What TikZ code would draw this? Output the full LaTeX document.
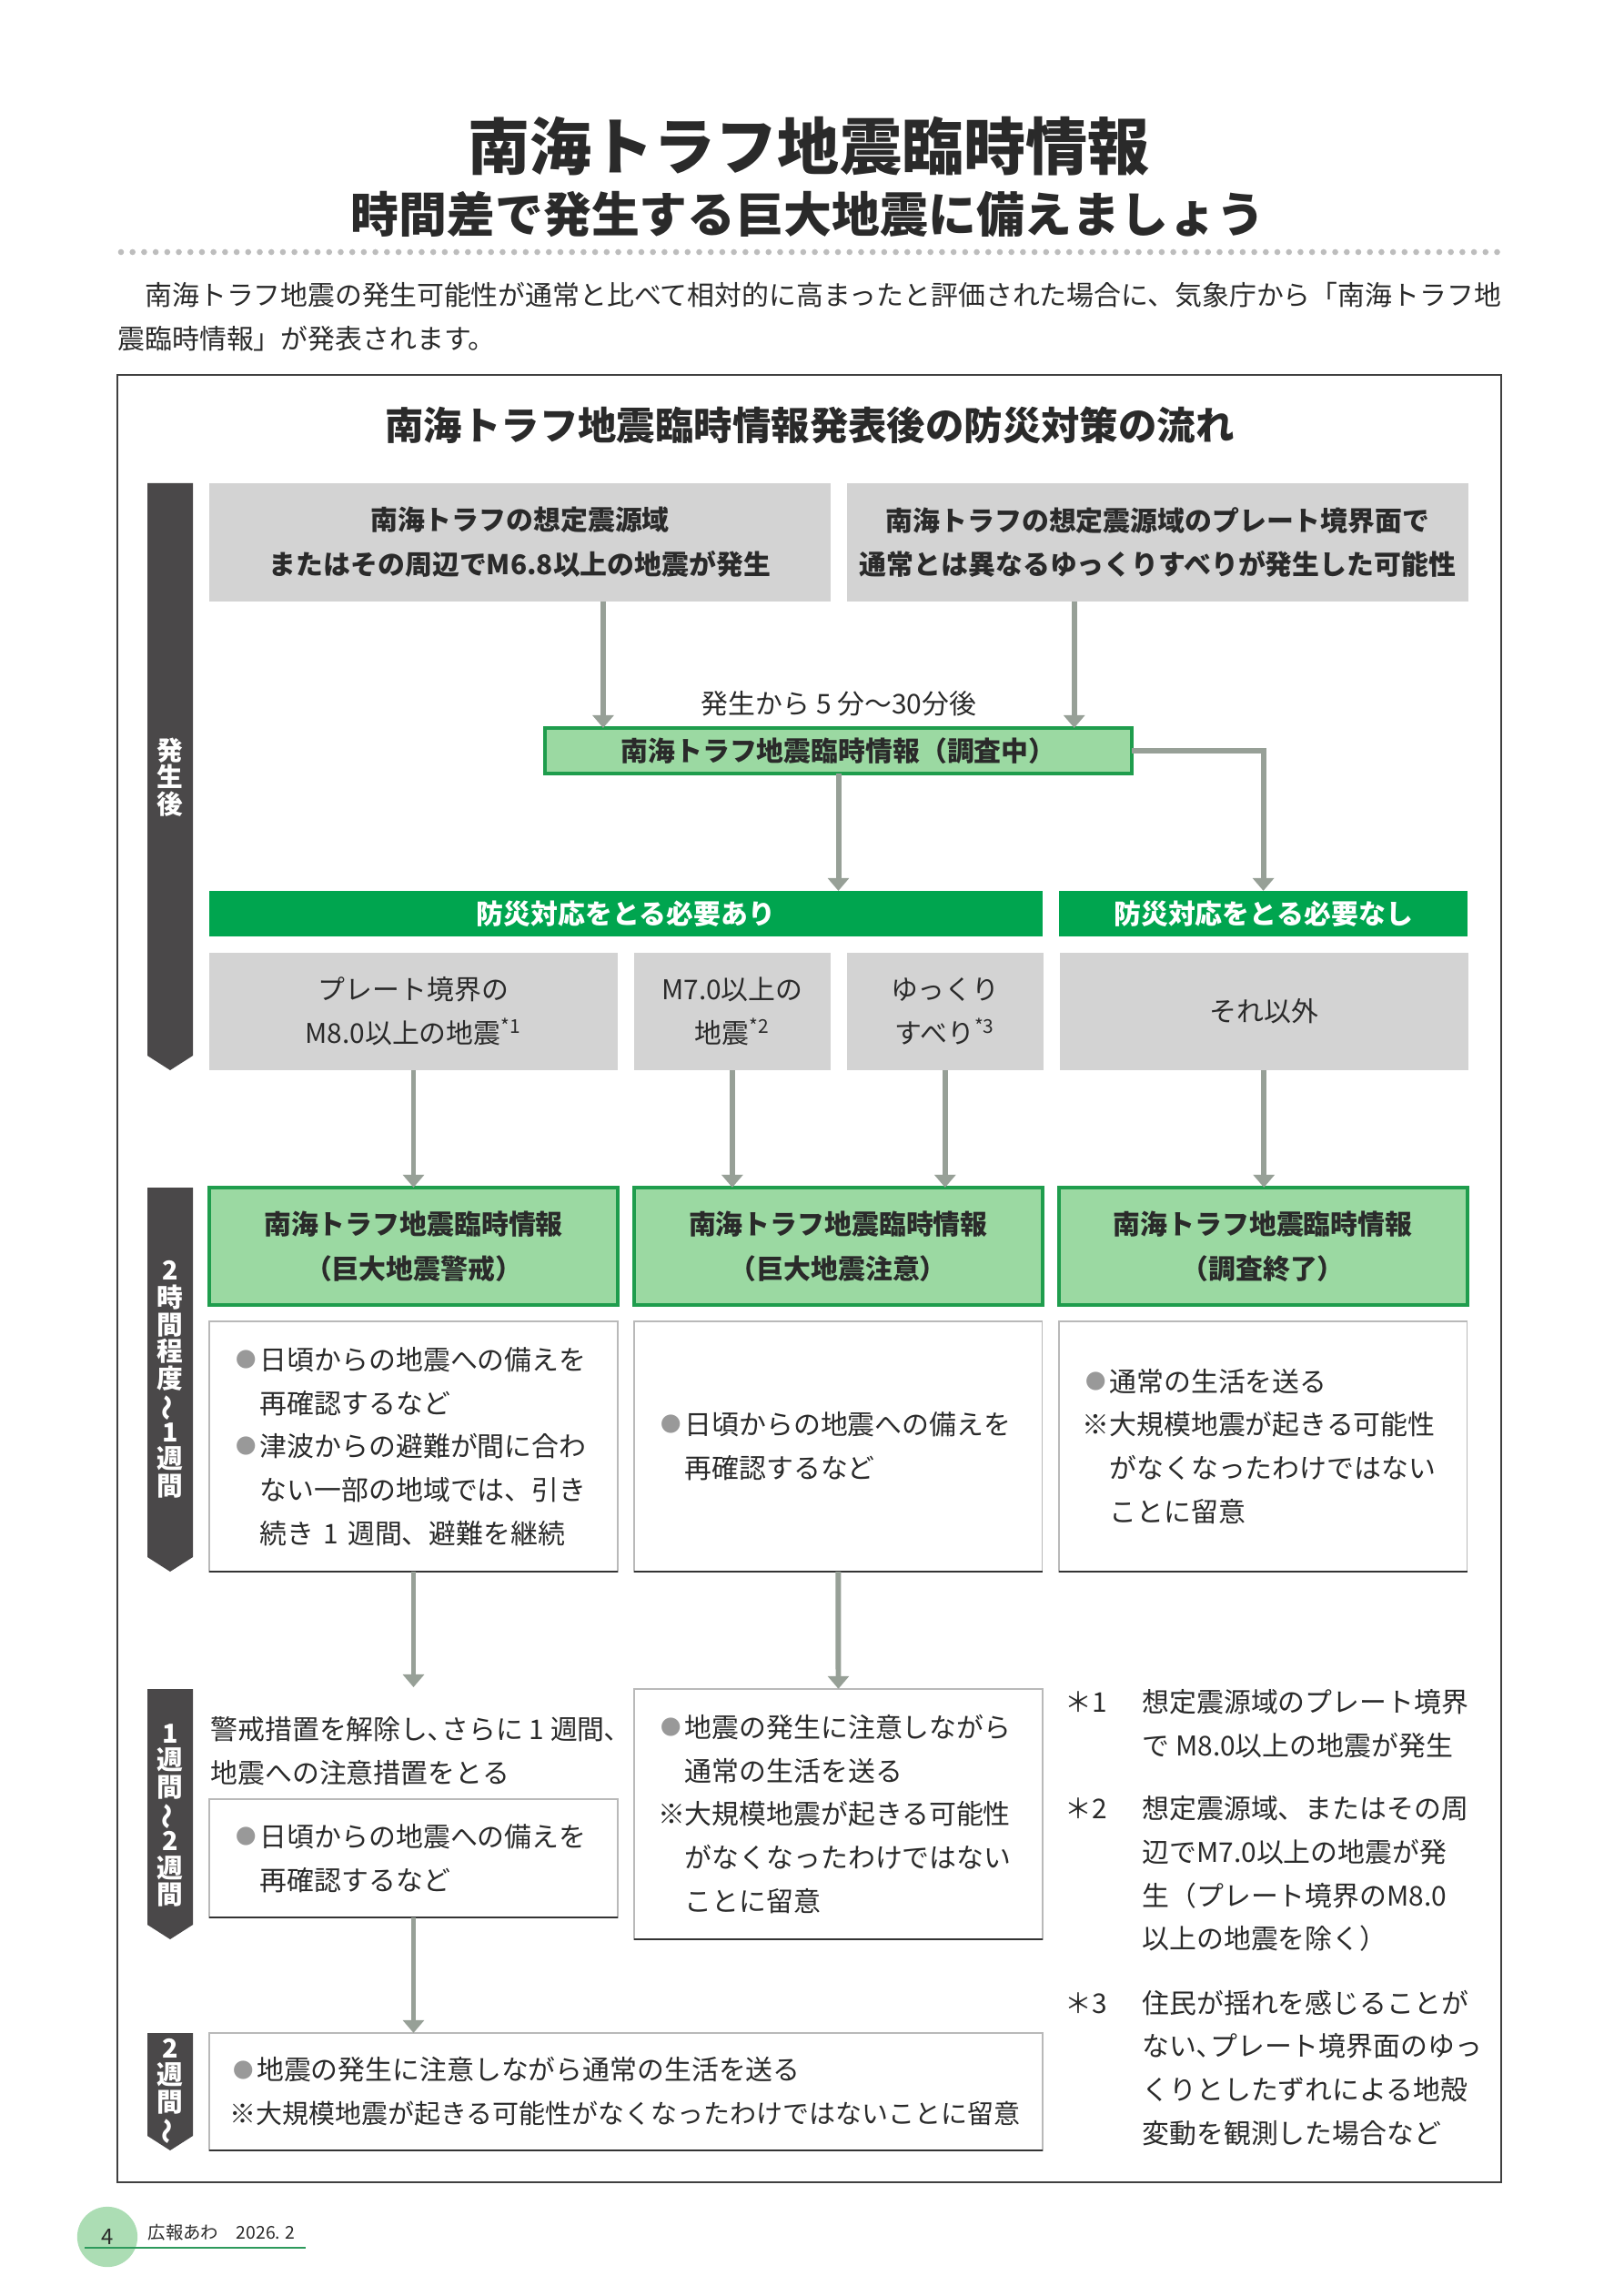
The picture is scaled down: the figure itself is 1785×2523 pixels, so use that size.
\documentclass[tikz,border=0pt]{standalone}
\usepackage{fontspec}
\setmainfont{Noto Sans CJK JP}
\usepackage{xcolor}
\usepackage{graphicx}
\usepackage{tikz}
\usetikzlibrary{arrows.meta, positioning}
\definecolor{bandgray}{HTML}{4A4849}
\definecolor{condgray}{HTML}{D3D3D3}
\definecolor{flowgray}{HTML}{97A097}
\definecolor{infofill}{HTML}{9BD9A2}
\definecolor{infoline}{HTML}{1F9D4D}
\definecolor{bannergreen}{HTML}{00A54F}
\definecolor{dotgray}{HTML}{BDBDBD}
\definecolor{ink}{HTML}{2A2A2A}
\definecolor{pagefill}{HTML}{ACDDB4}
\definecolor{pageline}{HTML}{2E9A5C}
\newcommand{\bl}{\makebox[1em][c]{\color{gray!80}\raisebox{0.1em}{\scalebox{0.75}{●}}}}
\newcommand{\ind}{\hspace*{1em}}
\newcommand{\fnm}[1]{\textsuperscript{*#1}}
\newcommand{\vwave}{\rotatebox[origin=c]{90}{～}}
\newcommand{\fnlab}[1]{\makebox[10mm][l]{#1}}
\newlength{\gap}\setlength{\gap}{2.12mm}
\tikzset{
  body/.style={font=\fontsize{10pt}{16pt}\selectfont, text=ink},
  srcbox/.style={rectangle, fill=condgray, text=ink, font=\fontsize{10pt}{16.3pt}\selectfont\bfseries, align=center, inner sep=0pt, outer sep=0pt, minimum width=80.35mm, minimum height=15.3mm},
  condbox/.style={rectangle, fill=condgray, body, align=center, inner sep=0pt, outer sep=0pt, minimum height=15.2mm},
  bannerbox/.style={rectangle, fill=bannergreen, text=white, font=\fontsize{10pt}{16pt}\selectfont\bfseries, inner sep=0pt, outer sep=0pt, minimum height=5.9mm},
  infobox/.style={rectangle, fill=infofill, draw=infoline, line width=1.33pt, text=ink, font=\fontsize{10pt}{16.3pt}\selectfont\bfseries, align=center, inner sep=0pt, outer sep=0pt, minimum height=15.2mm},
  notebox/.style={rectangle, fill=white, draw=gray!55, line width=0.5pt, body, align=left, inner xsep=3.05mm, inner ysep=0pt, outer sep=0pt, text width=46.7mm},
  phaselbl/.style={text=white, font=\fontsize{9.6pt}{9.9pt}\selectfont\bfseries, align=center, inner sep=0pt},
  arr/.style={-{Triangle[width=7.7pt,length=4.7pt]}, line width=2pt, draw=flowgray},
}

\begin{document}
\begin{tikzpicture}[x=0.117647mm, y=-0.117647mm]
\useasboundingbox (0,0) rectangle (1785,2523);

% header
\node[font=\fontsize{22.8pt}{26pt}\selectfont\bfseries, text=ink] (title) at (889,161) {南海トラフ地震臨時情報};
\node[font=\fontsize{17.7pt}{20pt}\selectfont\bfseries, text=ink] (subtitle) at (888,235) {時間差で発生する巨大地震に備えましょう};
\foreach \i in {0,...,119}
  \fill[dotgray] ({133+\i*12.71},277) circle (3.3);
\node[body, align=left, anchor=west, inner sep=0pt] (lead) at (129,348) {　南海トラフ地震の発生可能性が通常と比べて相対的に高まったと評価された場合に、気象庁から「南海トラフ地\\震臨時情報」が発表されます。};

% frame
\draw[line width=0.6pt, black!75] (129,412) rectangle (1650,2398);
\node[font=\fontsize{14.2pt}{17pt}\selectfont\bfseries, text=ink] (ftitle) at (890,467) {南海トラフ地震臨時情報発表後の防災対策の流れ};

% phase bands
\foreach \top/\bot/\mid/\lbl [count=\i] in {531/1176/854/{発\\生\\後}, 1305/1727/1516/{2\\時\\間\\程\\度\\\vwave\\1\\週\\間}, 1856/2131/1995/{1\\週\\間\\\vwave\\2\\週\\間}, 2234/2363/2298/{2\\週\\間\\\vwave}} {
  \fill[bandgray] (162,\top) -- (212,\top) -- (212,{\bot-16}) -- (187,\bot) -- (162,{\bot-16}) -- cycle;
  \node[phaselbl] (ph\i) at (187,\mid) {\lbl};
}

% trigger
\node[srcbox] (srcA) at (571.5,596) {南海トラフの想定震源域\\またはその周辺でM6.8以上の地震が発生};
\node[srcbox, right=\gap of srcA] (srcB) {南海トラフの想定震源域のプレート境界面で\\通常とは異なるゆっくりすべりが発生した可能性};
\node[body] (lag) at (922,773) {発生から 5 分～30分後};
\node[infobox, minimum width=75.9mm, minimum height=5.9mm] (chk) at (921.5,825) {南海トラフ地震臨時情報（調査中）};

\node[bannerbox, minimum width=107.8mm] (need) at (688,1004) {防災対応をとる必要あり};
\node[bannerbox, minimum width=52.8mm, right=\gap of need] (none) {防災対応をとる必要なし};

\node[condbox, minimum width=52.8mm] (c1) at (454.5,1111.5) {プレート境界の\\M8.0以上の地震\fnm{1}};
\node[condbox, minimum width=25.4mm, right=\gap of c1] (c2) {M7.0以上の\\地震\fnm{2}};
\node[condbox, minimum width=25.4mm, right=\gap of c2] (c3) {ゆっくり\\すべり\fnm{3}};
\node[condbox, minimum width=52.8mm, right=\gap of c3] (c4) {それ以外};

% information issued
\node[infobox, minimum width=52.8mm] (g1) at (454.5,1369.5) {南海トラフ地震臨時情報\\（巨大地震警戒）};
\node[infobox, minimum width=52.8mm, right=\gap of g1] (g2) {南海トラフ地震臨時情報\\（巨大地震注意）};
\node[infobox, minimum width=52.8mm, right=\gap of g2] (g3) {南海トラフ地震臨時情報\\（調査終了）};

\node[notebox, minimum height=32.4mm] (w1) at (454.5,1589.5) {\bl 日頃からの地震への備えを\\\ind 再確認するなど\\\bl 津波からの避難が間に合わ\\\ind ない一部の地域では、引き\\\ind 続き 1 週間、避難を継続};
\node[notebox, minimum height=32.4mm, right=\gap of w1] (w2) {\bl 日頃からの地震への備えを\\\ind 再確認するなど};
\node[notebox, minimum height=32.4mm, right=\gap of w2] (w3) {\bl 通常の生活を送る\\※大規模地震が起きる可能性\\\ind がなくなったわけではない\\\ind ことに留意};

% one to two weeks
\coordinate (e1) at (454.5,1854);
\node[body, align=left, anchor=west, inner sep=0pt] (lift) at (231,1924) {警戒措置を解除し､さらに 1 週間､\\地震への注意措置をとる};
\node[notebox, minimum height=15.3mm] (w4) at (454.5,2042) {\bl 日頃からの地震への備えを\\\ind 再確認するなど};
\node[notebox, minimum height=32.4mm] (w5) at (921.5,1993.5) {\bl 地震の発生に注意しながら\\\ind 通常の生活を送る\\※大規模地震が起きる可能性\\\ind がなくなったわけではない\\\ind ことに留意};
\node[notebox, text width=102.5mm, inner xsep=2.65mm, minimum height=15.2mm] (w6) at (688,2298.5) {\bl 地震の発生に注意しながら通常の生活を送る\\{\fontsize{9.7pt}{16pt}\selectfont ※大規模地震が起きる可能性がなくなったわけではないことに留意}};
\foreach \n in {w1,w2,w3,w4,w5,w6}
  \draw[line width=0.6pt, black!80] (\n.south west) -- (\n.south east);

% notes
\node[body, align=left, anchor=west, inner sep=0pt] (fn1) at (1170,1894) {\fnlab{＊1}想定震源域のプレート境界\\\hspace*{10mm}で M8.0以上の地震が発生};
\node[body, align=left, anchor=west, inner sep=0pt] (fn2) at (1170,2059) {\fnlab{＊2}想定震源域、またはその周\\\hspace*{10mm}辺でM7.0以上の地震が発\\\hspace*{10mm}生（プレート境界のM8.0\\\hspace*{10mm}以上の地震を除く）};
\node[body, align=left, anchor=west, inner sep=0pt] (fn3) at (1170,2272.5) {\fnlab{＊3}住民が揺れを感じることが\\\hspace*{10mm}ない､プレート境界面のゆっ\\\hspace*{10mm}くりとしたずれによる地殻\\\hspace*{10mm}変動を観測した場合など};

% connectors
\coordinate (a1) at ([xshift=10.76mm]srcA.south);
\coordinate (a2) at ([xshift=-10.8mm]srcB.south);
\draw[arr] (a1) -- (a1 |- chk.north);
\draw[arr] (a2) -- (a2 |- chk.north);
\draw[arr] (chk.south) -- (chk.south |- need.north);
\draw[arr] (chk.east) -| (none.north);
\draw[arr] (c1.south) -- (c1.south |- g1.north);
\draw[arr] (c2.south) -- (c2.south |- g2.north);
\draw[arr] (c3.south) -- (c3.south |- g2.north);
\draw[arr] (c4.south) -- (c4.south |- g3.north);
\draw[arr] (w1.south) -- (e1);
\draw[arr] (w2.south) -- (w5.north);
\draw[arr] (w4.south) -- (w4.south |- w6.north);

% footer
\node[circle, fill=pagefill, minimum size=7.8mm, inner sep=0pt, font=\fontsize{8pt}{8pt}\selectfont, text=ink] (pgno) at (118,2458) {4};
\draw[line width=0.4pt, pageline] (93,2470) -- (336,2470);
\node[font=\fontsize{6.5pt}{8pt}\selectfont, text=ink, anchor=west, inner sep=0pt] (issue) at (162,2453) {広報あわ　2026. 2};
\end{tikzpicture}
\end{document}
